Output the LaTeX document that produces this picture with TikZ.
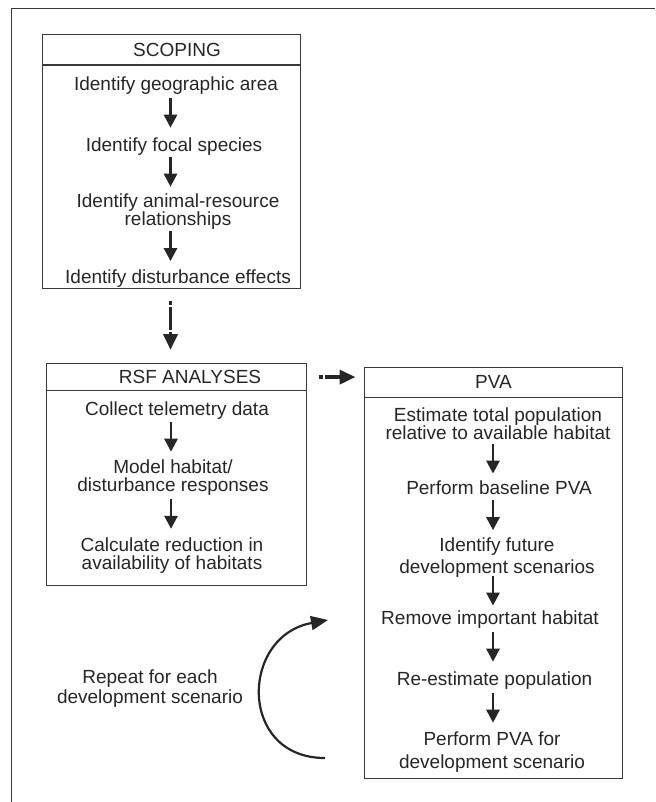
\documentclass[tikz,border=0pt]{standalone}
\usepackage{fontspec}
\setmainfont{Liberation Sans}
\usetikzlibrary{arrows.meta,calc}

\definecolor{ink}{HTML}{262626}
\definecolor{rulecol}{HTML}{3A3A3A}

% text size of every label, with fixed line top and bottom
\newcommand\steptext{\fontsize{19pt}{18pt}\selectfont}
\newcommand\topstrut{\rule{0pt}{15pt}}
\newcommand\botstrut{\rule[-5pt]{0pt}{5pt}}

% short arrow between two consecutive steps, on a given vertical axis
\newcommand\stepflow[3]{%
  \draw[flow] let \p1=($(#1.south)!0.5!(#2.north)$), \p2=(#3) in
    (\x2,\y1+18.5pt) -- (\x2,\y1-11.5pt);}

\begin{document}
\begin{tikzpicture}[x=1pt,y=-1pt,
  stage/.style={draw=rulecol, line width=1.2pt, inner sep=0pt, anchor=north west},
  stagehead/.style={draw=rulecol, line width=1.2pt, inner sep=0pt, anchor=north west},
  steplabel/.style={font=\steptext, text=ink, align=center, inner sep=0pt, anchor=north,
    execute at begin node=\topstrut, execute at end node=\botstrut},
  flow/.style={draw=ink, line width=2.8pt, -{Triangle[length=13pt,width=13pt]}},
  dashflow/.style={draw=ink, line width=3.8pt, -{Triangle[length=16pt,width=14pt]}},
  loopflow/.style={draw=ink, line width=2.2pt, -{Triangle[length=17pt,width=14pt]}},
  frame/.style={draw=rulecol, line width=1.3pt}
]
\useasboundingbox (0,0) rectangle (655,802);

% outer frame (top and left edges only)
\draw[frame] (655,8.5) -- (11.5,8.5) -- (11.5,802);

% ---------- SCOPING ----------
\node[stage, minimum width=258pt, minimum height=254pt] (scope) at (41.5,34) {};
\node[stagehead, minimum width=258pt, minimum height=30.5pt] (scopehead) at (41.5,34) {};
\coordinate (scopeaxis) at (170.5,34);
\node[steplabel] (scopetitle) at (177,41) {SCOPING};
\node[steplabel] (s1) at (176,75.5) {Identify geographic area};
\node[steplabel] (s2) at (174,136.5) {Identify focal species};
\node[steplabel] (s3) at (178,193.5) {Identify animal-resource\\relationships};
\node[steplabel] (s4) at (178,268.5) {Identify disturbance effects};
\stepflow{s1}{s2}{scopeaxis}
\stepflow{s2}{s3}{scopeaxis}
\stepflow{s3}{s4}{scopeaxis}

% ---------- RSF ANALYSES ----------
\node[stage, minimum width=259.5pt, minimum height=222pt] (rsf) at (46,363) {};
\node[stagehead, minimum width=259.5pt, minimum height=27pt] (rsfhead) at (46,363) {};
\coordinate (rsfaxis) at (171,363);
\node[steplabel] (rsftitle) at (190,368.5) {RSF ANALYSES};
\node[steplabel] (r1) at (177,400.5) {Collect telemetry data};
\node[steplabel] (r2) at (173,459.5) {Model habitat/\\[0.5pt]disturbance responses};
\node[steplabel] (r3) at (172,537.5) {Calculate reduction in\\availability of habitats};
\stepflow{r1}{r2}{rsfaxis}
\stepflow{r2}{r3}{rsfaxis}

% ---------- PVA ----------
\node[stage, minimum width=258pt, minimum height=411pt] (pva) at (363.5,367) {};
\node[stagehead, minimum width=258pt, minimum height=29.5pt] (pvahead) at (363.5,367) {};
\coordinate (pvaaxis) at (493,367);
\node[steplabel] (pvatitle) at (493.5,373.5) {PVA};
\node[steplabel] (p1) at (498,407.5) {Estimate total population\\relative to available habitat};
\node[steplabel] (p2) at (499,479.5) {Perform baseline PVA};
\node[steplabel] (p3) at (497,537.5) {Identify future\\[4pt]development scenarios};
\node[steplabel] (p4) at (490,609.5) {Remove important habitat};
\node[steplabel] (p5) at (494.5,670.5) {Re-estimate population};
\node[steplabel] (p6) at (492,731.5) {Perform PVA for\\[5pt]development scenario};
\stepflow{p1}{p2}{pvaaxis}
\stepflow{p2}{p3}{pvaaxis}
\stepflow{p3}{p4}{pvaaxis}
\stepflow{p4}{p5}{pvaaxis}
\stepflow{p5}{p6}{pvaaxis}

% ---------- links between stages ----------
\draw[dashflow, dash pattern=on 4pt off 1.5pt on 23pt off 2pt on 60pt,
      shorten <=12pt, shorten >=13pt]
  (scopeaxis |- scope.south) -- (scopeaxis |- rsf.north);
\draw[dashflow, dash pattern=on 4pt off 2.5pt on 60pt,
      shorten <=12pt, shorten >=8pt]
  (rsfhead.east) -- (pvahead.west |- rsfhead.east);

% ---------- repeat loop ----------
\node[steplabel] (repeat) at (150,669.5) {Repeat for each\\[2pt]development scenario};
\coordinate (loopstart) at (325,758);
\coordinate (loopend) at (328,620);
\draw[loopflow] (loopstart) .. controls (238,758) and (240,636) .. (loopend);
\end{tikzpicture}
\end{document}
